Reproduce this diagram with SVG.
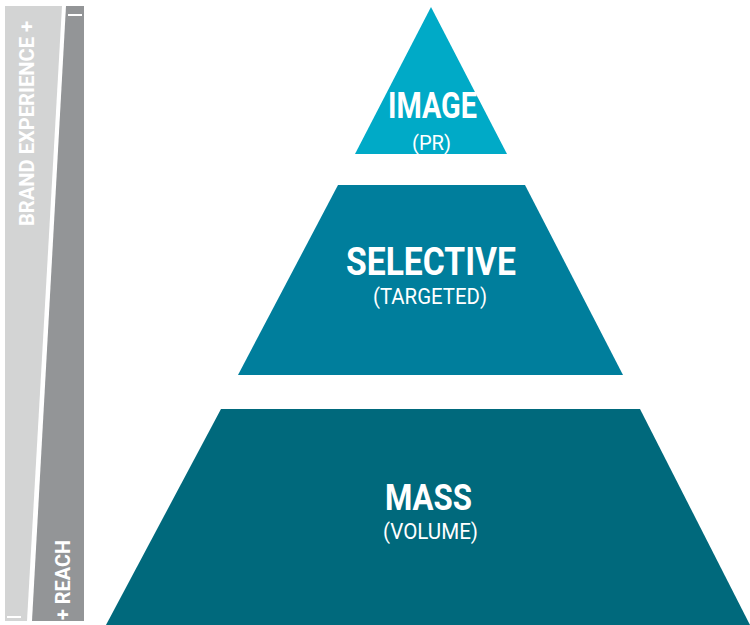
<svg xmlns="http://www.w3.org/2000/svg" width="750" height="625" viewBox="0 0 750 625">
<style>
.t{font-family:Roboto,"Liberation Sans",sans-serif;fill:#ffffff;text-anchor:middle}
.b{font-weight:700}
.r{font-weight:400}
.bar{font-family:Roboto,"Liberation Sans",sans-serif;font-weight:700;fill:#ffffff}
.dash{stroke:#ffffff;stroke-width:2}
</style>
<rect width="750" height="625" fill="#ffffff"/>
<g id="axis-brand-experience">
<polygon points="5,6 62,6 27,621 5,621" fill="#D3D4D4"/>
<text class="bar" font-size="21" transform="translate(34,226) rotate(-90)" textLength="205" lengthAdjust="spacingAndGlyphs">BRAND EXPERIENCE +</text>
<line class="dash" x1="7" y1="617" x2="21" y2="617"/>
</g>
<g id="axis-reach">
<polygon points="66,6 84,6 84,621 32,621" fill="#939597"/>
<text class="bar" font-size="21" transform="translate(70,620) rotate(-90)" textLength="80" lengthAdjust="spacingAndGlyphs">+ REACH</text>
<line class="dash" x1="68" y1="15" x2="82" y2="15"/>
</g>
<g id="image">
<polygon points="431,7 507,154 355,154" fill="#00AAC7"/>
<text class="t b" x="432.5" y="118" font-size="36" textLength="89" lengthAdjust="spacingAndGlyphs">IMAGE</text>
<text class="t r" x="431.5" y="150" font-size="21" textLength="39" lengthAdjust="spacingAndGlyphs">(PR)</text>
</g>
<g id="selective">
<polygon points="338,185 525,185 623,375 238,375" fill="#007E9C"/>
<text class="t b" x="431" y="275" font-size="39" textLength="170" lengthAdjust="spacingAndGlyphs">SELECTIVE</text>
<text class="t r" x="430" y="304" font-size="22" textLength="114" lengthAdjust="spacingAndGlyphs">(TARGETED)</text>
</g>
<g id="mass">
<polygon points="221,409 640,409 750,625 106,625" fill="#00697C"/>
<text class="t b" x="428.5" y="510" font-size="37" textLength="87" lengthAdjust="spacingAndGlyphs">MASS</text>
<text class="t r" x="430.5" y="539" font-size="22" textLength="95" lengthAdjust="spacingAndGlyphs">(VOLUME)</text>
</g>
<g id="connectors"></g>
</svg>
